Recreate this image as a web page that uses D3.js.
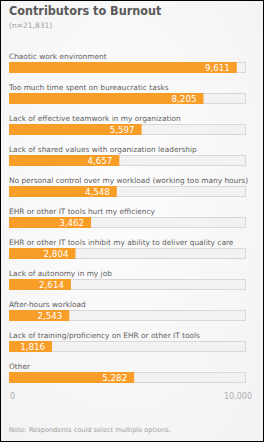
<!DOCTYPE html>
<html>
<head>
  <meta charset="utf-8">
  <title>Contributors to Burnout</title>
  <script src="https://cdn.jsdelivr.net/npm/d3@7/dist/d3.min.js"></script>
  <style>
    html, body { margin: 0; padding: 0; background: #fff; }
    svg { display: block; font-family: "DejaVu Sans", Verdana, sans-serif; }
  </style>
</head>
<body>
  <svg width="264" height="442"></svg>

  <script>
    // data
    const categories = [
      "Chaotic work environment",
      "Too much time spent on bureaucratic tasks",
      "Lack of effective teamwork in my organization",
      "Lack of shared values with organization leadership",
      "No personal control over my workload (working too many hours)",
      "EHR or other IT tools hurt my efficiency",
      "EHR or other IT tools inhibit my ability to deliver quality care",
      "Lack of autonomy in my job",
      "After-hours workload",
      "Lack of training/proficiency on EHR or other IT tools",
      "Other"
    ];
    const values = [9611, 8205, 5597, 4657, 4548, 3462, 2804, 2614, 2543, 1816, 5282];
    const axisMax = 10000;
    const tickLabels = ["0", "10,000"];

    const svg = d3.select("svg");
    const width = +svg.attr("width");
    const height = +svg.attr("height");

    // background + frame
    const defs = svg.append("defs");
    const grad = defs.append("radialGradient").attr("id", "bg")
      .attr("cx", "45%").attr("cy", "40%").attr("r", "75%");
    grad.append("stop").attr("offset", "0%").attr("stop-color", "#fdfdfd");
    grad.append("stop").attr("offset", "100%").attr("stop-color", "#f3f3f3");
    svg.append("rect")
      .attr("x", 0.5).attr("y", 0.5)
      .attr("width", width - 1).attr("height", height - 1)
      .attr("fill", "url(#bg)")
      .attr("stroke", "#000");

    svg.append("text")
      .attr("x", 9).attr("y", 15)
      .attr("font-family", "'DejaVu Sans Condensed', 'DejaVu Sans', sans-serif")
      .attr("font-size", 12.5).attr("font-weight", "bold")
      .attr("fill", "#595959")
      .text("Contributors to Burnout");

    svg.append("text")
      .attr("x", 9).attr("y", 28)
      .attr("font-size", 7.5)
      .attr("fill", "#a0a0a0")
      .text("(n=21,831)");

    const x = d3.scaleLinear().domain([0, axisMax]).range([9, 246]);
    const y = d3.scaleBand().domain(categories).range([42, 383]).paddingInner(0);

    const barH = 11;

    const row = svg.selectAll("g.row")
      .data(categories.map((c, i) => ({ c, v: values[i] })))
      .enter().append("g").attr("class", "row")
      .attr("transform", d => `translate(0,${y(d.c)})`);

    row.append("text")
      .attr("x", x(0)).attr("y", 17)
      .attr("font-size", 7.4)
      .attr("fill", "#5f5f5f")
      .text(d => d.c);

    row.append("rect")
      .attr("x", x(0) + 0.5).attr("y", 20.5)
      .attr("width", x(axisMax) - x(0) - 1).attr("height", barH - 1)
      .attr("fill", "#f2f2f2").attr("stroke", "#d8d8d8");

    row.append("rect")
      .attr("x", x(0)).attr("y", 20)
      .attr("width", d => x(d.v) - x(0)).attr("height", barH)
      .attr("fill", "#f89d27");

    row.append("text")
      .attr("x", d => x(d.v) - 7).attr("y", 29)
      .attr("text-anchor", "end")
      .attr("font-size", 8.7)
      .attr("fill", "#fff")
      .text(d => d3.format(",")(d.v));

    // axis labels at the two ends
    svg.append("text")
      .attr("x", x(0) + 1).attr("y", 399)
      .attr("font-size", 8)
      .attr("fill", "#b0b0b0")
      .text(tickLabels[0]);
    svg.append("text")
      .attr("x", x(axisMax) + 6).attr("y", 399)
      .attr("text-anchor", "end")
      .attr("font-size", 8)
      .attr("fill", "#b0b0b0")
      .text(tickLabels[1]);

    svg.append("text")
      .attr("x", 9).attr("y", 432)
      .attr("font-size", 6.6)
      .attr("fill", "#a0a0a0")
      .text("Note: Respondents could select multiple options.");
  </script>
</body>
</html>
